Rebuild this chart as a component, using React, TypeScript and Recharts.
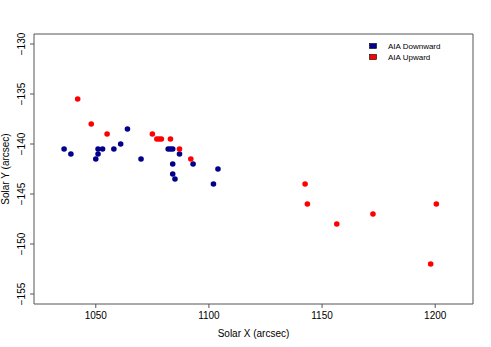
import React from "react";
import {
  ScatterChart,
  Scatter,
  XAxis,
  YAxis,
  ReferenceArea,
  Legend,
  Label,
} from "recharts";

const downX = [1036, 1039, 1050, 1051, 1051, 1053, 1058, 1061, 1064, 1070, 1082, 1083, 1084, 1084, 1084, 1085, 1087, 1093, 1102, 1104];
const downY = [-140.5, -141, -141.5, -141, -140.5, -140.5, -140.5, -140, -138.5, -141.5, -140.5, -140.5, -140.5, -142, -143, -143.5, -141, -142, -144, -142.5];

const upX = [1042, 1048, 1055, 1075, 1077, 1078, 1079, 1083, 1087, 1092, 1142.5, 1143.5, 1156.5, 1172.5, 1198, 1200.5];
const upY = [-135.5, -138, -139, -139, -139.5, -139.5, -139.5, -139.5, -140.5, -141.5, -144, -146, -148, -147, -152, -146];

const xTicks = [1050, 1100, 1150, 1200];
const yTicks = [-155, -150, -145, -140, -135, -130];
const xDomain = [1022.7, 1216.7];
const yDomain = [-156, -129];

const seriesNames = ["AIA Downward", "AIA Upward"];
const seriesColors = ["#00008B", "#FF0000"];
const xLabel = "Solar X (arcsec)";
const yLabel = "Solar Y (arcsec)";

const downData = downX.map((x, i) => ({ x, y: downY[i] }));
const upData = upX.map((x, i) => ({ x, y: upY[i] }));

const FONT = "'Liberation Sans', Arial, Helvetica, sans-serif";
const fmt = (v: number) => (v < 0 ? "\u2212" + Math.abs(v) : String(v));

const YTick = (props: any) => {
  const { x, y, payload } = props;
  return (
    <text
      x={x}
      y={y}
      transform={`rotate(-90, ${x}, ${y})`}
      textAnchor="middle"
      fontSize={10}
      fill="#000"
      fontFamily={FONT}
    >
      {fmt(payload.value)}
    </text>
  );
};

const dot = (color: string) => (p: any) =>
  <circle cx={p.cx} cy={p.cy} r={2.8} fill={color} />;

const LegendBox = () => (
  <svg width={110} height={30} style={{ display: "block" }}>
    {seriesNames.map((n, i) => (
      <g key={n}>
        <rect x={9.5} y={3.5 + i * 11} width={7} height={5} fill={seriesColors[i]} stroke="#000" strokeWidth={0.6} />
        <text x={28} y={8.8 + i * 11} fontSize={8} fill="#000" fontFamily={FONT}>
          {n}
        </text>
      </g>
    ))}
  </svg>
);

export default function App() {
  return (
    <div style={{ position: "absolute", left: 0, top: 0, width: 491, height: 347, background: "#fff" }}>
      <ScatterChart width={491} height={347} margin={{ top: 34, right: 18, bottom: 0, left: 0 }}>
        <XAxis
          type="number"
          dataKey="x"
          domain={xDomain}
          ticks={xTicks}
          allowDataOverflow
          height={43}
          axisLine={false}
          tickSize={4}
          tickMargin={4}
          tickLine={{ stroke: "#555" }}
          tick={{ fontSize: 10, fill: "#000", fontFamily: FONT }}
        >
          <Label
            content={() => (
              <text x={253.5} y={336.7} textAnchor="middle" fontSize={10} fill="#000" fontFamily={FONT}>
                {xLabel}
              </text>
            )}
          />
        </XAxis>
        <YAxis
          type="number"
          dataKey="y"
          domain={yDomain}
          ticks={yTicks}
          allowDataOverflow
          width={34}
          axisLine={false}
          tickSize={4}
          tickMargin={5}
          tickLine={{ stroke: "#555" }}
          tick={<YTick />}
        >
          <Label
            content={() => (
              <text
                x={8.5}
                y={169}
                transform="rotate(-90, 8.5, 169)"
                textAnchor="middle"
                fontSize={10}
                fill="#000"
                fontFamily={FONT}
              >
                {yLabel}
              </text>
            )}
          />
        </YAxis>
        <ReferenceArea
          x1={xDomain[0]}
          x2={xDomain[1]}
          y1={yDomain[0]}
          y2={yDomain[1]}
          fill="none"
          fillOpacity={0}
          stroke="#555"
          strokeWidth={1}
          ifOverflow="visible"
        />
        <Scatter name={seriesNames[0]} data={downData} fill={seriesColors[0]} shape={dot(seriesColors[0])} isAnimationActive={false} />
        <Scatter name={seriesNames[1]} data={upData} fill={seriesColors[1]} shape={dot(seriesColors[1])} isAnimationActive={false} />
        <Legend
          layout="vertical"
          align="center"
          verticalAlign="middle"
          content={() => <LegendBox />}
          wrapperStyle={{ position: "absolute", left: 360, top: 40, width: 110, height: 30 }}
        />
      </ScatterChart>
    </div>
  );
}
